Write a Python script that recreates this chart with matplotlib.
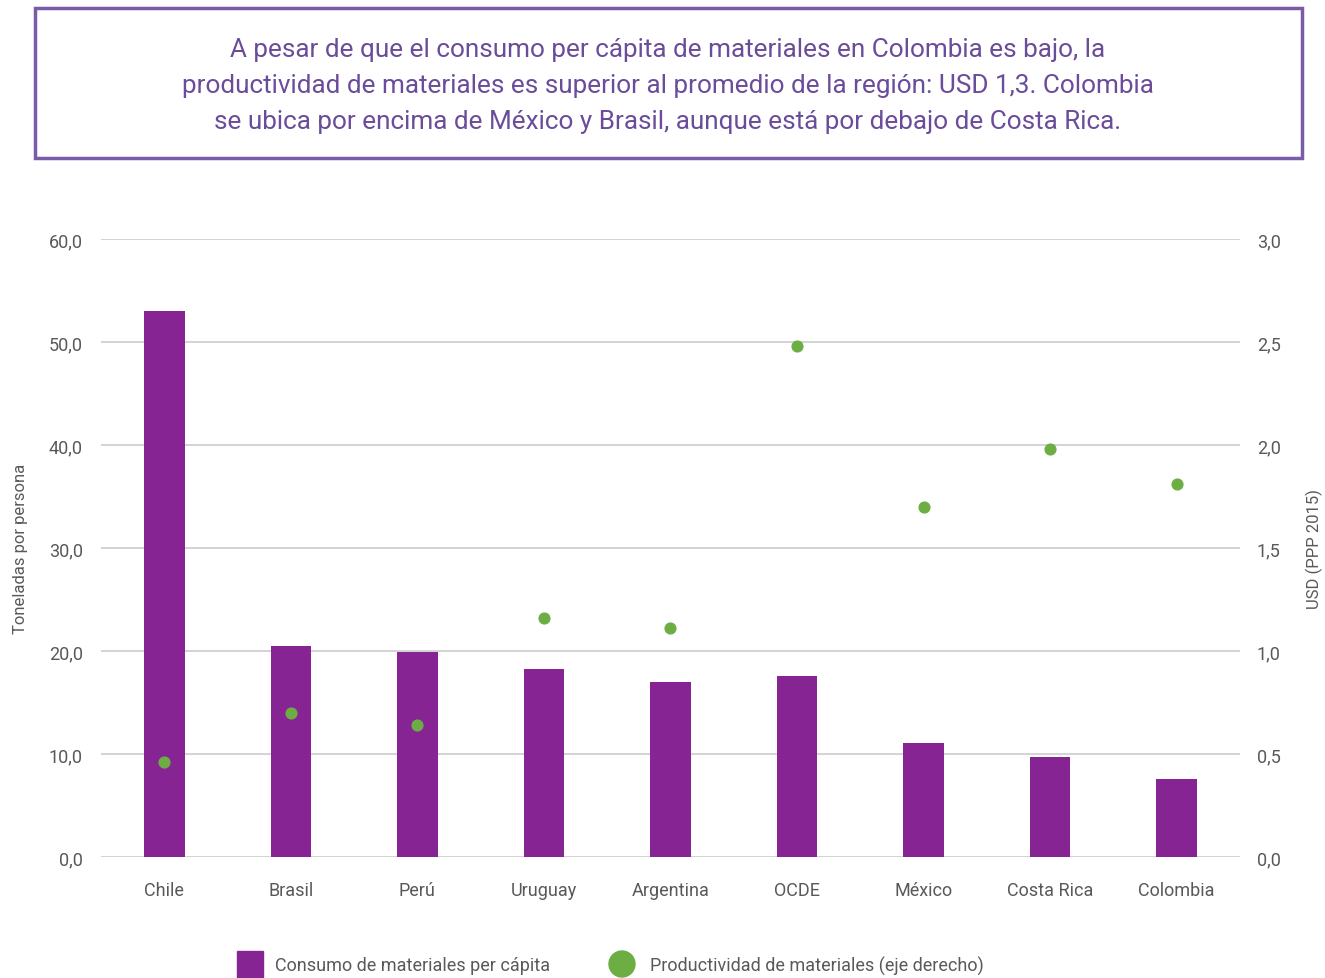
import matplotlib
matplotlib.use("Agg")
import matplotlib.pyplot as plt
from matplotlib.patches import Rectangle, Ellipse

countries = ["Chile", "Brasil", "Perú", "Uruguay", "Argentina", "OCDE",
             "México", "Costa Rica", "Colombia"]
consumo = [53.0, 20.5, 19.9, 18.3, 17.0, 17.6, 11.1, 9.7, 7.6]
productividad = [0.46, 0.70, 0.64, 1.16, 1.11, 2.48, 1.70, 1.98, 1.81]
left_ticks = [0, 10, 20, 30, 40, 50, 60]
right_ticks = [0, 0.5, 1.0, 1.5, 2.0, 2.5, 3.0]

BAR = "#862493"
GREEN = "#6DAE44"
TXT = "#595959"
TITLE_C = "#6B4C9A"
FONT = ["Roboto", "DejaVu Sans"]

fig = plt.figure(figsize=(13.25, 9.79), dpi=100)
W, H = 1325, 979

# Title box
box = Rectangle((35 / W, 1 - 159 / H), (1302 - 35) / W, (159 - 9) / H,
                transform=fig.transFigure, fill=False, edgecolor="#7A5BA8",
                linewidth=2.5)
fig.patches.append(box)
title = ("A pesar de que el consumo per cápita de materiales en Colombia es bajo, la\n"
         "productividad de materiales es superior al promedio de la región: USD 1,3. Colombia\n"
         "se ubica por encima de México y Brasil, aunque está por debajo de Costa Rica.")
fig.text(668 / W, 1 - 86 / H, title, ha="center", va="center", color=TITLE_C,
         fontsize=18.8, family=FONT, linespacing=1.62)

# Main axes
ax = fig.add_axes([101 / W, 1 - 858 / H, (1240 - 101) / W, (858 - 240) / H])
x = list(range(len(countries)))
ax.bar(x, consumo, width=0.32, color=BAR, zorder=3)
ax.set_xlim(-0.5, len(countries) - 0.5)
ax.set_ylim(0, 60)
ax.set_yticks(left_ticks)
ax.set_yticklabels([f"{v:.1f}".replace(".", ",") for v in left_ticks])
ax.set_xticks(x)
ax.set_xticklabels(countries)
ax.grid(axis="y", color="#CCCCCC", linewidth=1.2, zorder=0)
for s in ax.spines.values():
    s.set_visible(False)
ax.tick_params(axis="y", length=0, colors=TXT, pad=13)
ax.tick_params(axis="x", length=0, colors=TXT, pad=17)
for lbl in ax.get_xticklabels() + ax.get_yticklabels():
    lbl.set_family(FONT)
    lbl.set_fontsize(13)
ax.set_ylabel("Toneladas por persona", fontsize=12, color=TXT, family=FONT)
ax.yaxis.set_label_coords(-0.064, 0.5)

ax2 = ax.twinx()
ax2.scatter(x, productividad, s=60, color=GREEN, zorder=4)
ax2.set_ylim(0, 3.0)
ax2.set_yticks(right_ticks)
ax2.set_yticklabels([f"{v:.1f}".replace(".", ",") for v in right_ticks])
for s in ax2.spines.values():
    s.set_visible(False)
ax2.tick_params(axis="y", length=0, pad=12, colors=TXT)
for lbl in ax2.get_yticklabels():
    lbl.set_family(FONT)
    lbl.set_fontsize(13)
ax2.set_ylabel("USD (PPP 2015)", fontsize=12, color=TXT, family=FONT)
ax2.yaxis.set_label_coords(1.058, 0.5)

# Legend
fig.patches.append(Rectangle((237 / W, 1 - 979 / H), 26 / W, 27 / H,
                             transform=fig.transFigure, color=BAR))
fig.text(275 / W, 1 - 966 / H, "Consumo de materiales per cápita", color=TXT,
         fontsize=13, family=FONT, va="center")
fig.patches.append(Ellipse((622 / W, 1 - 965 / H), 26 / W, 26 / H,
                           transform=fig.transFigure, color=GREEN))
fig.text(650 / W, 1 - 966 / H, "Productividad de materiales (eje derecho)",
         color=TXT, fontsize=13, family=FONT, va="center")

fig.savefig("out.png", dpi=100, facecolor="white")
